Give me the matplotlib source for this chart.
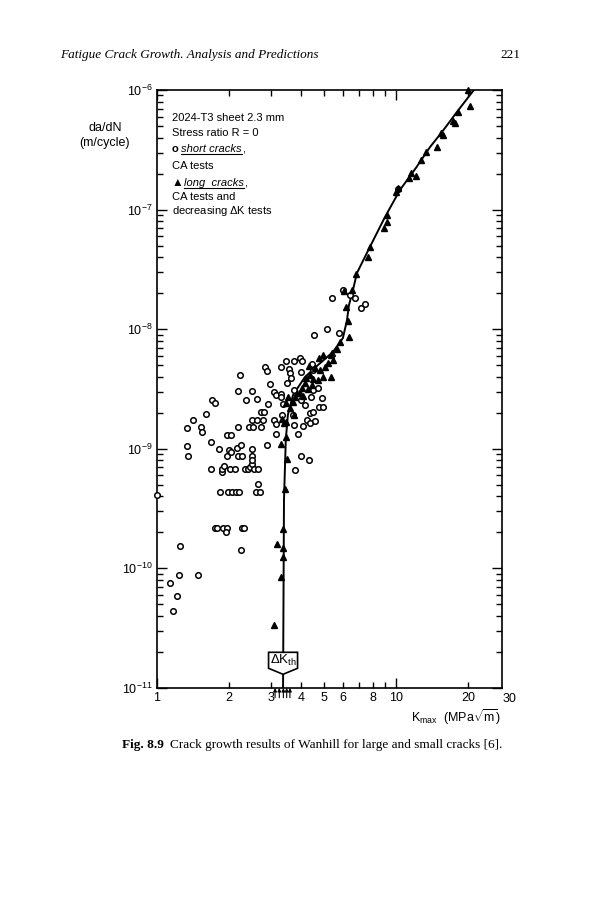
import numpy as np
import matplotlib.pyplot as plt
import matplotlib.transforms as mtransforms
from matplotlib.patches import Polygon
from matplotlib.lines import Line2D

plt.rcParams['font.family'] = ['Liberation Sans', 'DejaVu Sans']
plt.rcParams['mathtext.fontset'] = 'custom'
plt.rcParams['mathtext.rm'] = 'Liberation Sans'
plt.rcParams['mathtext.it'] = 'Liberation Sans:italic'
plt.rcParams['mathtext.bf'] = 'Liberation Sans:bold'

# short cracks, CA tests (open circles)
short_k = [1.00, 1.13, 1.17, 1.21, 1.24, 1.25, 1.49, 1.75, 1.79, 1.89, 1.96, 1.94, 2.27, 2.31, 2.25,
           1.33, 1.34, 1.35, 1.42, 1.53, 1.54, 1.60, 1.68, 1.69, 1.70, 1.75, 1.81, 1.84, 1.88, 1.88,
           1.91, 1.96, 1.97, 1.99, 2.00, 2.02, 2.04, 2.05, 2.07, 2.12, 2.14, 2.16, 2.18, 2.19, 2.19,
           2.20, 2.22, 2.24, 2.27, 2.33, 2.35, 2.41, 2.43, 2.46, 2.50, 2.50, 2.50, 2.50, 2.50, 2.51,
           2.52, 2.55, 2.59, 2.63, 2.63, 2.65, 2.65, 2.70, 2.72, 2.73, 2.78, 2.81, 2.83, 2.89, 2.89,
           2.92, 2.97, 3.09, 3.09, 3.14, 3.15, 3.15, 3.29, 3.31, 3.31, 3.34, 3.38, 3.48, 3.51, 3.56,
           3.61, 3.63, 3.72, 3.73, 3.73, 3.73, 3.78, 3.88, 3.98, 3.99, 4.01, 4.02, 4.03, 4.09, 4.16,
           4.23, 4.34, 4.35, 4.37, 4.40, 4.46, 4.51, 4.51, 4.51, 4.55, 4.59, 4.73, 4.78, 4.89, 4.93,
           5.16, 5.42, 5.77, 6.02, 6.42, 6.77, 7.12, 7.44, 10.2]
short_dadn = [4.1e-10, 7.55e-11, 4.4e-11, 5.85e-11, 8.8e-11, 1.53e-10, 8.8e-11, 2.19e-10, 2.19e-10, 2.19e-10,
              2.19e-10, 2.02e-10, 2.19e-10, 2.19e-10, 1.43e-10,
              1.48e-9, 1.05e-9, 8.65e-10, 1.74e-9, 1.51e-9, 1.37e-9, 1.96e-9, 6.78e-10, 1.13e-9, 2.56e-9,
              2.40e-9, 9.9e-10, 4.35e-10, 6.36e-10, 6.74e-10,
              7.22e-10, 8.7e-10, 1.30e-9, 4.35e-10, 9.77e-10, 6.74e-10, 1.30e-9, 9.35e-10, 4.35e-10, 6.74e-10,
              4.35e-10, 1.01e-9, 3.04e-9, 1.53e-9, 8.7e-10,
              4.35e-10, 4.14e-9, 1.08e-9, 8.7e-10, 6.74e-10, 2.56e-9, 6.74e-10, 1.53e-9, 7.1e-10, 7.46e-10,
              3.04e-9, 1.73e-9, 9.9e-10, 8.7e-10, 8.06e-10,
              1.53e-9, 6.74e-10, 4.35e-10, 2.61e-9, 1.73e-9, 6.74e-10, 5.1e-10, 4.35e-10, 1.53e-9, 2.02e-9,
              1.73e-9, 2.02e-9, 4.85e-9, 4.48e-9, 1.08e-9,
              2.38e-9, 3.46e-9, 3.0e-9, 1.73e-9, 1.33e-9, 2.82e-9, 1.60e-9, 2.86e-9, 4.8e-9, 2.70e-9,
              1.91e-9, 2.38e-9, 5.45e-9, 3.55e-9, 4.65e-9,
              4.27e-9, 3.88e-9, 1.92e-9, 5.42e-9, 3.12e-9, 1.57e-9, 6.65e-10, 1.32e-9, 5.71e-9, 8.65e-10,
              4.41e-9, 2.56e-9, 5.4e-9, 1.55e-9, 2.32e-9,
              1.74e-9, 8.1e-10, 1.63e-9, 1.98e-9, 2.73e-9, 5.12e-9, 4.56e-9, 3.10e-9, 2.04e-9, 8.95e-9,
              1.70e-9, 3.21e-9, 2.25e-9, 2.64e-9, 2.25e-9,
              1.0e-8, 1.81e-8, 9.25e-9, 2.13e-8, 1.93e-8, 1.82e-8, 1.50e-8, 1.63e-8, 1.48e-7]

# long cracks, CA and decreasing dK tests (filled triangles)
long_k = [3.10, 3.29, 3.36, 3.38, 3.17, 3.38, 3.42, 3.50, 3.29, 3.47, 3.32, 3.48, 3.40, 3.74, 3.60,
          3.48, 3.70, 3.54, 3.78, 3.84, 3.97, 4.09, 4.03, 4.30, 4.16, 4.44, 4.20, 4.37, 4.51, 4.73,
          4.96, 5.35, 4.81, 4.58, 4.34, 5.05, 5.21, 5.46, 4.78, 4.96, 5.33, 5.42, 5.65, 5.83, 6.38,
          6.31, 6.18, 6.06, 6.54, 6.80, 7.61, 7.82, 8.91, 9.14, 9.14, 10.0, 10.2, 11.3, 11.6, 12.1,
          12.7, 13.4, 14.8, 15.5, 15.8, 17.4, 17.7, 18.2, 20.4, 19.95]
long_dadn = [3.36e-11, 8.5e-11, 1.25e-10, 1.47e-10, 1.59e-10, 2.12e-10, 4.61e-10, 8.17e-10, 1.10e-9, 1.26e-9,
             1.76e-9, 1.69e-9, 1.63e-9, 1.92e-9, 2.18e-9,
             2.40e-9, 2.48e-9, 2.73e-9, 2.73e-9, 2.91e-9, 2.91e-9, 2.76e-9, 3.21e-9, 3.14e-9, 3.53e-9,
             3.42e-9, 3.88e-9, 4.14e-9, 3.81e-9, 3.76e-9,
             3.96e-9, 4.01e-9, 4.56e-9, 4.71e-9, 4.92e-9, 4.80e-9, 5.19e-9, 5.52e-9, 5.78e-9, 6.08e-9,
             6.08e-9, 6.37e-9, 6.79e-9, 7.86e-9, 8.65e-9,
             1.16e-8, 1.54e-8, 2.09e-8, 2.13e-8, 2.89e-8, 4.04e-8, 4.87e-8, 6.98e-8, 7.92e-8, 9.0e-8,
             1.41e-7, 1.51e-7, 1.83e-7, 2.01e-7, 1.91e-7,
             2.60e-7, 3.06e-7, 3.36e-7, 4.35e-7, 4.21e-7, 5.54e-7, 5.33e-7, 6.59e-7, 7.35e-7, 1.0e-6]

# drawn trend curve
curve_k = [3.37, 3.40, 3.46, 3.53, 3.71, 4.16, 4.72, 5.45, 6.00, 6.24, 6.36, 6.61, 6.87, 7.78,
           9.0, 10.4, 12.2, 13.9, 15.6, 18.0, 21.2]
curve_dadn = [1e-11, 3.73e-10, 1.19e-9, 1.92e-9, 2.82e-9, 3.98e-9, 5.02e-9, 6.45e-9, 8.44e-9, 1.19e-8,
              1.59e-8, 2.13e-8, 2.95e-8, 4.87e-8, 8.67e-8, 1.46e-7, 2.27e-7, 3.34e-7, 4.46e-7, 6.55e-7, 1e-6]

# threshold values marked by small arrows under the axis
kth_marks = [3.12, 3.25, 3.38, 3.49, 3.60]

x_major = [1, 10]
x_minor = [2, 3, 4, 5, 6, 7, 8, 9, 20]
x_minor_labels = ['2', '3', '4', '5', '6', '', '8', '', '20']

fig = plt.figure(figsize=(5.93, 9.0), dpi=100)
ax = fig.add_axes([157/593, 1-688/900, 345/593, 598/900])
ax.set_xscale('log')
ax.set_yscale('log')
ax.set_xlim(1, 27.8)
ax.set_ylim(1e-11, 1e-6)

ax.plot(curve_k, curve_dadn, color='k', lw=1.4, zorder=2)
ax.plot(short_k, short_dadn, 'o', mfc='white', mec='k', ms=4, mew=1.1, ls='none', zorder=3, clip_on=False)
ax.plot(long_k, long_dadn, '^', color='k', ms=4.5, ls='none', zorder=4, clip_on=False)

# axis ticks
ax.set_xticks(x_major)
ax.set_xticklabels(['1', '10'])
ax.set_xticks(x_minor, minor=True)
ax.set_xticklabels(x_minor_labels, minor=True)
ax.set_yticks([1e-11, 1e-10, 1e-9, 1e-8, 1e-7, 1e-6])
ax.set_yticklabels([r'$10^{-11}$', r'$10^{-10}$', r'$10^{-9}$', r'$10^{-8}$', r'$10^{-7}$', r'$10^{-6}$'])
ax.tick_params(which='both', direction='in', top=True, right=True, labelsize=9, width=1)
ax.tick_params(which='major', length=7, pad=3)
ax.tick_params(which='minor', length=4, pad=3)
for s in ax.spines.values():
    s.set_linewidth(1.2)
ax.text(30, -0.008, '30', transform=ax.get_xaxis_transform(), ha='center', va='top', fontsize=9)

# threshold box
trans = fig.dpi_scale_trans + mtransforms.ScaledTranslation(curve_k[0], curve_dadn[0], ax.transData)
box = Polygon([(-0.145, 0.357), (0.145, 0.357), (0.145, 0.197), (0, 0.137), (-0.145, 0.197)],
              closed=True, fc='white', ec='k', lw=1.2, transform=trans, zorder=5, clip_on=False)
ax.add_patch(box)
ax.text(0, 0.277, r'$\Delta$K$_{\rm th}$', transform=trans, ha='center', va='center', fontsize=9.5, zorder=6)

for k in kth_marks:
    ax.annotate('', xy=(k, 0), xycoords=ax.get_xaxis_transform(), xytext=(0, -7), textcoords='offset points',
                arrowprops=dict(arrowstyle='-|>', lw=0.8, color='k', mutation_scale=5, shrinkA=0, shrinkB=0))

# legend block
lx = (171.7-157)/345
ax.text(lx, 0.9534, '2024-T3 sheet 2.3 mm', transform=ax.transAxes, va='center', fontsize=8)
ax.text(lx, 0.9286, 'Stress ratio R = 0', transform=ax.transAxes, va='center', fontsize=8)
s1 = ax.text(lx, 0.9008, 'o', transform=ax.transAxes, va='center', fontsize=8, fontweight='bold')
t1 = ax.text(lx + 0.027, 0.9008, 'short cracks', transform=ax.transAxes, va='center', fontsize=8, style='italic')
ax.text(lx, 0.8729, 'CA tests', transform=ax.transAxes, va='center', fontsize=8)
s2 = ax.text(lx, 0.8440, '▲', transform=ax.transAxes, va='center', fontsize=8.5)
t2 = ax.text(lx + 0.035, 0.8440, 'long  cracks', transform=ax.transAxes, va='center', fontsize=8, style='italic')
ax.text(lx, 0.8206, 'CA tests and', transform=ax.transAxes, va='center', fontsize=8)
ax.text(lx, 0.7982, r'decreasing $\Delta$K tests', transform=ax.transAxes, va='center', fontsize=8)

# axis titles
fig.text(105/593, 1-128/900, 'da/dN', ha='center', va='center', fontsize=9)
fig.text(105/593, 1-143/900, '(m/cycle)', ha='center', va='center', fontsize=9)
fig.text(411/593, 1-717/900, r'K$_{\rm max}$  (MPa$\sqrt{\rm m}$)', ha='left', va='center', fontsize=9)

# page header and caption
fig.text(60/593, 1-55/900, 'Fatigue Crack Growth. Analysis and Predictions', family='Liberation Serif',
         style='italic', fontsize=9.5, va='center')
fig.text(520/593, 1-55/900, '221', family='Liberation Serif', fontsize=9.5, va='center', ha='right')
cap1 = fig.text(122/593, 1-745/900, 'Fig. 8.9', family='Liberation Serif', fontweight='bold',
                fontsize=9.5, va='center')

fig.canvas.draw()
r = fig.canvas.get_renderer()
inv = fig.transFigure.inverted()


def underline_and_comma(t):
    bb = t.get_window_extent(r)
    (x0, y0), (x1, _) = inv.transform([(bb.x0, bb.y0 + 0.5), (bb.x1, bb.y0)])
    fig.add_artist(Line2D([x0, x1], [y0, y0], color='k', lw=0.8, transform=fig.transFigure))
    xc, yc = inv.transform((bb.x1, (bb.y0 + bb.y1) / 2))
    fig.text(xc, yc, ',', fontsize=8, va='center')


underline_and_comma(t1)
underline_and_comma(t2)

bb = cap1.get_window_extent(r)
cx, cy = inv.transform((bb.x1 + 6, (bb.y0 + bb.y1) / 2))
fig.text(cx, 1-745/900, 'Crack growth results of Wanhill for large and small cracks [6].',
         family='Liberation Serif', fontsize=9.5, va='center')

fig.savefig('out.png', dpi=100)
